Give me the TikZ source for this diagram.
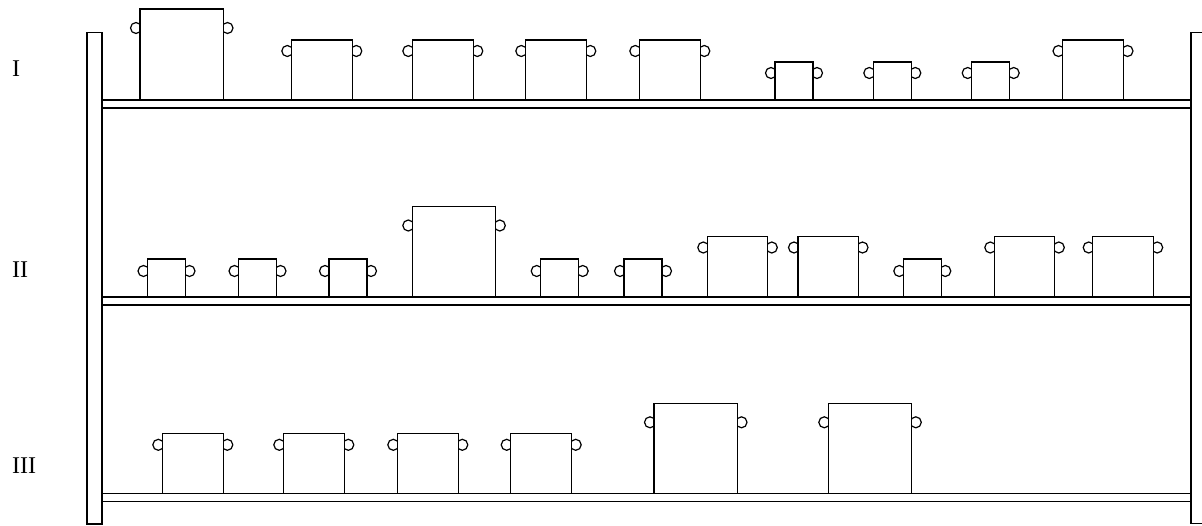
\documentclass[tikz,border=0pt]{standalone}
\usepackage{fontspec}
\setmainfont{Liberation Serif}
\usetikzlibrary{positioning}
\tikzset{
  shelfpost/.style={draw, line width=1.2pt, fill=white},
  shelfplank/.style={draw, line width=1.2pt, fill=white},
  potbox/.style={
    draw, fill=white, line width=1.2pt, inner sep=0pt, outer sep=0pt,
    anchor=south west
  },
  pothandle/.style={draw, line width=1.2pt},
  shelflabel/.style={font=\fontsize{24}{24}\selectfont, inner sep=0pt, anchor=west},
}

\begin{document}
\begin{tikzpicture}[x=1pt, y=-1pt]
  \useasboundingbox (0,0) rectangle (1202,525);

  % Posts
  \draw[shelfpost] (87,32.5) rectangle (102,524);
  \draw[shelfpost] (1191,32.5) rectangle (1208,523.5);

  % Planks
  \draw[shelfplank] (102,100) rectangle (1191,108);
  \draw[shelfplank] (102,297) rectangle (1191,305);
  \draw[shelfplank] (102,493.3) rectangle (1191,501.3);

  % Labels
  \node[shelflabel] (labI) at (12,69) {I};
  \node[shelflabel] (labII) at (12,270) {II};
  \node[shelflabel] (labIII) at (12,466) {III};

  % Shelf I pots
  \foreach \px/\pw/\ph/\pd [count=\i] in {140/83.5/91/19, 291.3/61/60/11,
      412.3/61/60/11, 525.3/61/60/11, 639.3/61/60/11, 775/38/38/11,
      873.3/38/38/11, 971.7/38/38/11, 1062.5/61/60/11} {
    \draw[pothandle] (\px-4, 100-\ph+\pd) circle (5.5pt);
    \draw[pothandle] (\px+\pw+4, 100-\ph+\pd) circle (5.5pt);
    \node[potbox, minimum width=\pw pt, minimum height=\ph pt] (potI-\i) at (\px,100) {};
  }

  % Shelf II pots
  \foreach \px/\pw/\ph/\pd [count=\i] in {147.5/38/38/12, 238.5/38/38/12,
      329/38/38/12, 412.3/83.5/90.5/19, 540.7/38/38/12, 624/38/38/12,
      707.3/60.5/60.5/11, 798/60.5/60.5/11, 903.3/38/38/12,
      994.3/60.5/60.5/11, 1092.7/60.5/60.5/11} {
    \draw[pothandle] (\px-4, 297-\ph+\pd) circle (5.5pt);
    \draw[pothandle] (\px+\pw+4, 297-\ph+\pd) circle (5.5pt);
    \node[potbox, minimum width=\pw pt, minimum height=\ph pt] (potII-\i) at (\px,297) {};
  }

  % Shelf III pots
  \foreach \px/\pw/\ph/\pd [count=\i] in {162.3/61/60/11.5, 283.3/61/60/11.5,
      397.3/61/60/11.5, 510.7/61/60/11.5, 654/83.5/90/19, 828.3/83.5/90/19} {
    \draw[pothandle] (\px-4, 493.3-\ph+\pd) circle (5.5pt);
    \draw[pothandle] (\px+\pw+4, 493.3-\ph+\pd) circle (5.5pt);
    \node[potbox, minimum width=\pw pt, minimum height=\ph pt] (potIII-\i) at (\px,493.3) {};
  }
\end{tikzpicture}
\end{document}
